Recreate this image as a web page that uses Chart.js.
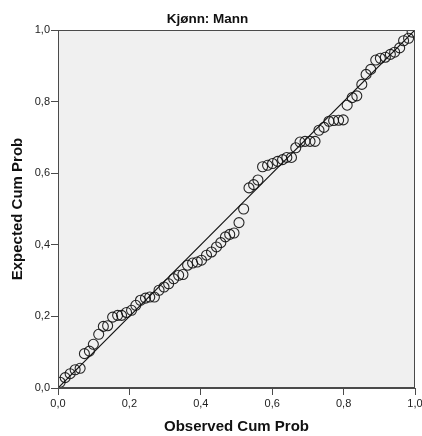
<!DOCTYPE html>
<html>
<head>
<meta charset="utf-8">
<script src="https://cdn.jsdelivr.net/npm/chart.js@4"></script>
<style>
  html, body { margin: 0; padding: 0; background: #fff; }
  #wrap { width: 422px; height: 436px; }
</style>
</head>
<body>
<div id="wrap"><canvas id="pp"></canvas></div>
<script>
const chartTitle = 'Kjønn: Mann';
const xTitle = 'Observed Cum Prob';
const yTitle = 'Expected Cum Prob';
const tickLabels = ['0,0', '0,2', '0,4', '0,6', '0,8', '1,0'];

// observed vs expected cumulative probability
const observedCumProb = [
  .006, .020, .034, .048, .062, .074, .088, .099, .114, .127,
  .139, .153, .167, .178, .192, .206, .218, .231, .245, .257,
  .270, .283, .297, .310, .324, .338, .350, .363, .377, .390,
  .402, .416, .430, .444, .456, .469, .481, .493, .507, .520,
  .535, .548, .560, .573, .587, .601, .615, .629, .641, .654,
  .666, .678, .692, .706, .720, .731, .745, .759, .772, .786,
  .799, .810, .824, .837, .851, .863, .876, .890, .903, .917,
  .931, .943, .957, .968, .982, .992
];
const expectedCumProb = [
  .016, .029, .040, .051, .055, .096, .103, .122, .150, .172,
  .174, .198, .203, .203, .211, .217, .231, .245, .251, .254,
  .254, .273, .282, .291, .305, .315, .317, .343, .349, .352,
  .357, .371, .380, .394, .406, .422, .429, .433, .462, .500,
  .559, .568, .581, .618, .622, .627, .633, .638, .644, .644,
  .671, .687, .689, .689, .689, .720, .728, .745, .747, .748,
  .749, .790, .811, .816, .848, .876, .890, .916, .921, .924,
  .932, .938, .950, .970, .977, .994
];
const refLineX = [0, 1];
const refLineY = [0, 1];

const points = observedCumProb.map((x, i) => ({ x: x, y: expectedCumProb[i] }));
const refLine = refLineX.map((x, i) => ({ x: x, y: refLineY[i] }));

// grey plot area with a dark frame, like the SPSS output
const plotFrame = {
  id: 'plotFrame',
  beforeDatasetsDraw(chart) {
    const { ctx, chartArea: a } = chart;
    ctx.save();
    ctx.fillStyle = '#f0f0f0';
    ctx.fillRect(a.left, a.top, a.right - a.left, a.bottom - a.top);
    ctx.restore();
  },
  afterDatasetsDraw(chart) {
    const { ctx, chartArea: a } = chart;
    ctx.save();
    ctx.strokeStyle = '#4a4a4a';
    ctx.lineWidth = 1;
    ctx.strokeRect(a.left + 0.5, a.top + 0.5, a.right - a.left - 1, a.bottom - a.top - 1);
    ctx.restore();
  }
};

const font = 'Arial, "Liberation Sans", sans-serif';

new Chart(document.getElementById('pp'), {
  type: 'scatter',
  data: {
    datasets: [
      {
        type: 'line',
        data: refLine,
        borderColor: '#111',
        borderWidth: 1.2,
        pointRadius: 0,
        fill: false
      },
      {
        data: points,
        pointRadius: 5,
        pointBorderWidth: 1.1,
        pointBackgroundColor: 'rgba(0,0,0,0)',
        pointBorderColor: 'rgba(15,15,15,0.9)'
      }
    ]
  },
  plugins: [plotFrame],
  options: {
    responsive: true,
    maintainAspectRatio: false,
    animation: false,
    layout: { padding: { left: 0, right: 7, top: 0, bottom: 0 } },
    plugins: {
      legend: { display: false },
      tooltip: { enabled: false },
      title: {
        display: true,
        text: chartTitle,
        color: '#111',
        font: { family: font, size: 13.5, weight: 'bold' },
        padding: { top: 10.9, bottom: 2.9 }
      }
    },
    scales: {
      x: {
        type: 'linear',
        min: 0,
        max: 1,
        ticks: {
          stepSize: 0.2,
          color: '#222',
          font: { family: font, size: 11 },
          padding: 2,
          maxRotation: 0,
          callback: (v, i) => tickLabels[i]
        },
        grid: { drawOnChartArea: false, drawTicks: true, tickLength: 7, color: '#4a4a4a' },
        border: { display: true, color: '#4a4a4a' },
        title: {
          display: true,
          text: xTitle,
          color: '#111',
          font: { family: font, size: 15, weight: 'bold' },
          padding: { top: 0, bottom: 0.3 }
        },
        afterFit(scale) {
          scale.height = 48;
          scale.paddingRight = 7;
          scale.paddingLeft = 0;
        }
      },
      y: {
        type: 'linear',
        min: 0,
        max: 1,
        ticks: {
          stepSize: 0.2,
          color: '#222',
          font: { family: font, size: 11 },
          padding: 1,
          callback: (v, i) => tickLabels[i]
        },
        grid: { drawOnChartArea: false, drawTicks: true, tickLength: 7, color: '#4a4a4a' },
        border: { display: true, color: '#4a4a4a' },
        title: {
          display: true,
          text: yTitle,
          color: '#111',
          font: { family: font, size: 15, weight: 'bold' },
          padding: { top: 9.3, bottom: 0 }
        },
        afterFit(scale) {
          scale.width = 58;
        }
      }
    }
  }
});
</script>
</body>
</html>
